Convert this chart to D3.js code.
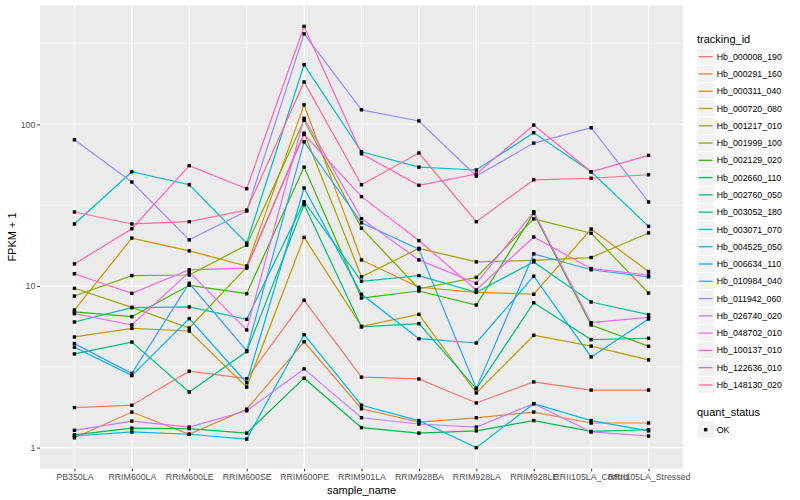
<!DOCTYPE html>
<html>
<head>
<meta charset="utf-8">
<script src="https://cdn.jsdelivr.net/npm/d3@7"></script>
<style>
  body { margin: 0; background: #fff; }
  text { font-family: "Liberation Sans", Arial, Helvetica, sans-serif; }
</style>
</head>
<body>
<div id="chart"></div>
<script>
// samples on the x axis
const categories = ['PB350LA', 'RRIM600LA', 'RRIM600LE', 'RRIM600SE', 'RRIM600PE', 'RRIM901LA',
  'RRIM928BA', 'RRIM928LA', 'RRIM928LE', 'RRII105LA_Control', 'RRII105LA_Stressed'];

const trackingIds = ['Hb_000008_190', 'Hb_000291_160', 'Hb_000311_040', 'Hb_000720_080', 'Hb_001217_010',
  'Hb_001999_100', 'Hb_002129_020', 'Hb_002660_110', 'Hb_002760_050', 'Hb_003052_180', 'Hb_003071_070',
  'Hb_004525_050', 'Hb_006634_110', 'Hb_010984_040', 'Hb_011942_060', 'Hb_026740_020', 'Hb_048702_010',
  'Hb_100137_010', 'Hb_122636_010', 'Hb_148130_020'];

// ggplot hue palette for 20 levels
const palette = ['#F8766D', '#EA8331', '#D89000', '#C09B00', '#A3A500', '#7CAE00', '#39B600', '#00BB4E',
  '#00BF7D', '#00C1A3', '#00BFC4', '#00BAE0', '#00B0F6', '#35A2FF', '#9590FF', '#C77CFF', '#E76BF3',
  '#FA62DB', '#FF62BC', '#FF6C91'];

// FPKM + 1, one row per tracking id, one value per sample
const fpkmPlus1 = [
  [1.77, 1.83, 2.97, 2.67, 8.16, 2.73, 2.66, 1.89, 2.55, 2.27, 2.27],
  [1.15, 1.66, 1.21, 1.73, 4.52, 1.74, 1.44, 1.53, 1.66, 1.42, 1.42],
  [7.10, 19.8, 16.5, 13.3, 132, 14.5, 9.82, 9.14, 8.89, 22.5, 12.3],
  [4.84, 5.47, 5.27, 2.37, 20.0, 5.63, 6.68, 2.18, 4.96, 4.25, 3.49],
  [9.68, 7.38, 5.50, 13.1, 88.3, 11.4, 17.1, 14.1, 14.4, 15.0, 21.3],
  [8.67, 11.6, 11.7, 17.9, 106, 22.8, 9.62, 11.3, 26.0, 21.2, 9.05],
  [6.91, 6.46, 10.1, 8.96, 54.4, 8.43, 9.31, 7.63, 28.2, 5.74, 4.24],
  [1.20, 1.32, 1.31, 1.23, 2.69, 1.33, 1.23, 1.27, 1.47, 1.26, 1.29],
  [3.80, 4.50, 2.21, 3.93, 31.9, 5.58, 5.85, 2.31, 7.88, 4.66, 4.75],
  [5.99, 7.34, 7.42, 6.22, 33.2, 10.7, 11.6, 9.14, 14.1, 7.96, 6.65],
  [24.2, 50.9, 42.3, 18.4, 234, 67.7, 54.4, 52.2, 88.7, 50.9, 23.4],
  [1.18, 1.25, 1.21, 1.13, 5.00, 1.83, 1.47, 1.00, 1.87, 1.47, 1.27],
  [4.18, 2.79, 6.28, 2.52, 40.4, 8.89, 4.72, 4.44, 11.5, 3.64, 6.25],
  [4.40, 2.88, 10.4, 3.98, 78.0, 24.6, 16.9, 2.33, 15.8, 12.6, 11.4],
  [80.3, 44.0, 19.3, 29.1, 363, 123, 105, 47.9, 76.6, 95.3, 33.1],
  [1.28, 1.46, 1.34, 1.69, 3.07, 1.53, 1.40, 1.34, 1.87, 1.25, 1.18],
  [6.74, 5.74, 12.2, 5.35, 109, 26.1, 14.5, 10.4, 28.8, 5.93, 6.40],
  [11.9, 9.01, 12.6, 12.9, 86.7, 35.7, 19.1, 9.45, 20.1, 12.8, 11.7],
  [13.7, 22.6, 55.5, 40.0, 404, 65.8, 42.0, 49.3, 99.0, 50.9, 64.3],
  [28.7, 24.2, 25.0, 29.5, 183, 42.3, 66.5, 25.0, 45.4, 46.4, 48.8]
];

const yMajor = [1, 10, 100];
const yMinor = [3.162, 31.62, 316.2];
const statusLevels = ['OK'];

const width = 800, height = 500;
const panel = {left: 40, right: 683, top: 5.3, bottom: 468.7};

const svg = d3.select('#chart').append('svg')
  .attr('width', width)
  .attr('height', height)
  .style('background', '#fff');

// scales (log10 with ggplot's 5% expansion)
const x = d3.scalePoint()
  .domain(categories)
  .range([panel.left, panel.right])
  .padding(0.6);

const allVals = fpkmPlus1.flat();
const lo = Math.log10(d3.min(allVals)), hi = Math.log10(d3.max(allVals));
const pad = (hi - lo) * 0.05;
const y = d3.scaleLog()
  .domain([Math.pow(10, lo - pad), Math.pow(10, hi + pad)])
  .range([panel.bottom, panel.top]);

// panel background + grid
svg.append('rect')
  .attr('x', panel.left).attr('y', panel.top)
  .attr('width', panel.right - panel.left).attr('height', panel.bottom - panel.top)
  .attr('fill', '#EBEBEB');

svg.append('g').selectAll('line')
  .data(yMinor)
  .enter().append('line')
  .attr('x1', panel.left).attr('x2', panel.right)
  .attr('y1', d => y(d)).attr('y2', d => y(d))
  .attr('stroke', '#fff').attr('stroke-width', 0.55);

svg.append('g').selectAll('line')
  .data(yMajor)
  .enter().append('line')
  .attr('x1', panel.left).attr('x2', panel.right)
  .attr('y1', d => y(d)).attr('y2', d => y(d))
  .attr('stroke', '#fff').attr('stroke-width', 1.1);

svg.append('g').selectAll('line')
  .data(categories)
  .enter().append('line')
  .attr('x1', d => x(d)).attr('x2', d => x(d))
  .attr('y1', panel.top).attr('y2', panel.bottom)
  .attr('stroke', '#fff').attr('stroke-width', 1.1);

// lines
const line = d3.line()
  .x((d, i) => x(categories[i]))
  .y(d => y(d));

svg.append('g').selectAll('path')
  .data(fpkmPlus1)
  .enter().append('path')
  .attr('d', line)
  .attr('fill', 'none')
  .attr('stroke', (d, i) => palette[i])
  .attr('stroke-width', 1.2);

// points (quant_status = OK)
const pts = [];
fpkmPlus1.forEach(row => row.forEach((v, j) => pts.push({cat: categories[j], v: v})));
const ps = 3.4;
svg.append('g').selectAll('rect')
  .data(pts)
  .enter().append('rect')
  .attr('x', d => x(d.cat) - ps / 2)
  .attr('y', d => y(d.v) - ps / 2)
  .attr('width', ps).attr('height', ps)
  .attr('fill', '#000');

// axes
const yAxis = svg.append('g')
  .attr('transform', `translate(${panel.left},0)`)
  .call(d3.axisLeft(y).tickValues(yMajor).tickFormat(d3.format('d')).tickSize(2.7).tickPadding(2));
yAxis.select('.domain').remove();
yAxis.selectAll('line').attr('stroke', '#333');
yAxis.selectAll('text').attr('fill', '#4D4D4D').style('font-size', '8.8px')
  .style('font-family', '"Liberation Sans", Arial, sans-serif');

const xAxis = svg.append('g')
  .attr('transform', `translate(0,${panel.bottom})`)
  .call(d3.axisBottom(x).tickSize(2.7).tickPadding(2));
xAxis.select('.domain').remove();
xAxis.selectAll('line').attr('stroke', '#333');
xAxis.selectAll('text').attr('fill', '#4D4D4D').style('font-size', '8.8px')
  .style('font-family', '"Liberation Sans", Arial, sans-serif');

// axis titles
svg.append('text')
  .attr('x', (panel.left + panel.right) / 2)
  .attr('y', 494)
  .attr('text-anchor', 'middle')
  .style('font-size', '11px')
  .text('sample_name');

svg.append('text')
  .attr('transform', `translate(16,${(panel.top + panel.bottom) / 2}) rotate(-90)`)
  .attr('text-anchor', 'middle')
  .style('font-size', '11px')
  .text('FPKM + 1');

// legend: tracking_id
const lg = svg.append('g').attr('transform', 'translate(697,0)');
const keyH = 17.28;
const keyTop = 48;

lg.append('text')
  .attr('x', 0).attr('y', 43)
  .style('font-size', '11px')
  .text('tracking_id');

const items = lg.selectAll('g.item')
  .data(trackingIds)
  .enter().append('g')
  .attr('class', 'item')
  .attr('transform', (d, i) => `translate(0,${keyTop + i * keyH})`);

items.append('rect')
  .attr('width', keyH).attr('height', keyH)
  .attr('fill', '#F2F2F2').attr('stroke', '#fff').attr('stroke-width', 0.8);

items.append('line')
  .attr('x1', 1.7).attr('x2', keyH - 1.7)
  .attr('y1', keyH / 2).attr('y2', keyH / 2)
  .attr('stroke', (d, i) => palette[i])
  .attr('stroke-width', 1.3);

items.append('text')
  .attr('x', keyH + 2.5).attr('y', keyH / 2 + 3.1)
  .style('font-size', '8.8px')
  .text(d => d);

// legend: quant_status
const qg = svg.append('g').attr('transform', 'translate(697,0)');
qg.append('text')
  .attr('x', 0).attr('y', 416)
  .style('font-size', '11px')
  .text('quant_status');

const qItems = qg.selectAll('g.q')
  .data(statusLevels)
  .enter().append('g')
  .attr('class', 'q')
  .attr('transform', (d, i) => `translate(0,${421 + i * keyH})`);

qItems.append('rect')
  .attr('width', keyH).attr('height', keyH)
  .attr('fill', '#F2F2F2').attr('stroke', '#fff').attr('stroke-width', 0.8);

qItems.append('rect')
  .attr('x', keyH / 2 - ps / 2).attr('y', keyH / 2 - ps / 2)
  .attr('width', ps).attr('height', ps)
  .attr('fill', '#000');

qItems.append('text')
  .attr('x', keyH + 2.5).attr('y', keyH / 2 + 3.1)
  .style('font-size', '8.8px')
  .text(d => d);
</script>
</body>
</html>
